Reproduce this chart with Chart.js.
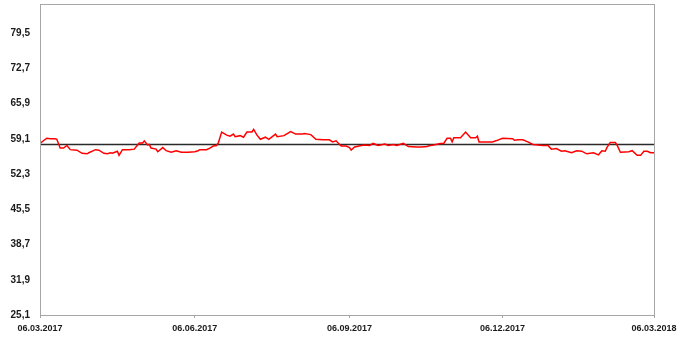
<!DOCTYPE html>
<html>
<head>
<meta charset="utf-8">
<script src="https://cdn.jsdelivr.net/npm/chart.js@4/dist/chart.umd.min.js"></script>
<style>
  html, body { margin: 0; padding: 0; background: #ffffff; }
  #wrap { width: 687px; height: 340px; position: relative; }
</style>
</head>
<body>
<div id="wrap"><canvas id="chart"></canvas></div>
<script>
// Days counted from 06.03.2017
const dayOffsets = [
  0, 4, 6, 9, 10, 12, 14, 16, 18, 22, 25, 28, 29, 33, 35, 38, 40, 42, 43, 46,
  47, 49, 53, 56, 58, 59, 61, 62, 64, 65, 66, 69, 70, 73, 75, 78, 81, 84, 88, 92,
  94, 95, 99, 101, 103, 105, 106, 108, 111, 113, 115, 116, 119, 121, 123, 126, 127, 129, 131, 134,
  136, 140, 141, 145, 149, 152, 156, 157, 161, 164, 168, 172, 174, 176, 179, 182, 184, 185, 187, 191,
  193, 196, 198, 201, 205, 207, 210, 212, 216, 219, 224, 227, 230, 232, 234, 238, 240, 242, 244, 245,
  246, 250, 253, 256, 259, 260, 261, 269, 271, 275, 281, 282, 284, 287, 290, 293, 299, 302, 304, 307,
  310, 312, 316, 319, 322, 325, 329, 332, 334, 336, 337, 339, 342, 343, 345, 350, 352, 355, 357, 359,
  361, 363, 365
];
const values = [
  58.2, 59.2, 59.1, 59.1, 59.0, 57.3, 57.3, 57.8, 57.0, 56.9, 56.3, 56.2, 56.4, 57.0, 56.9, 56.3, 56.2, 56.4, 56.3, 56.7,
  55.9, 57.0, 57.0, 57.1, 57.9, 58.3, 58.3, 58.7, 57.9, 58.0, 57.3, 57.1, 56.6, 57.4, 56.8, 56.5, 56.8, 56.5, 56.5, 56.6,
  56.8, 57.0, 57.0, 57.3, 57.7, 57.8, 58.3, 60.4, 59.8, 59.6, 60.0, 59.5, 59.7, 59.4, 60.4, 60.4, 60.9, 59.8, 59.0, 59.4,
  59.0, 60.0, 59.5, 59.7, 60.5, 60.0, 60.0, 60.1, 59.9, 59.0, 58.9, 58.9, 58.5, 58.7, 57.7, 57.7, 57.4, 56.9, 57.5, 57.8,
  57.9, 57.8, 58.2, 57.8, 58.1, 57.8, 58.0, 57.8, 58.2, 57.6, 57.5, 57.5, 57.6, 57.8, 57.9, 58.2, 58.2, 59.2, 59.2, 58.5,
  59.3, 59.3, 60.4, 59.3, 59.3, 59.6, 58.5, 58.5, 58.7, 59.2, 59.1, 58.8, 58.9, 58.9, 58.5, 58.0, 57.8, 57.8, 57.1, 57.2,
  56.7, 56.8, 56.4, 56.8, 56.7, 56.2, 56.4, 56.0, 56.8, 56.7, 57.4, 58.4, 58.4, 57.9, 56.5, 56.6, 56.8, 55.9, 55.9, 56.7,
  56.7, 56.4, 56.4
];
const meanValue = 58.0;

const tickDays = [0, 92, 184, 275, 365];
const tickLabels = ['06.03.2017', '06.06.2017', '06.09.2017', '06.12.2017', '06.03.2018'];
const yTicks = [25.1, 31.9, 38.7, 45.5, 52.3, 59.1, 65.9, 72.7, 79.5];
const yMin = 25.1;
const yMax = 85.1;

const series = dayOffsets.map((d, i) => ({ x: d, y: values[i] }));
const meanLine = [
  { x: tickDays[0], y: meanValue },
  { x: tickDays[tickDays.length - 1], y: meanValue }
];

// Grey frame around the plotting area
const frame = {
  id: 'frame',
  afterDatasetsDraw(chart) {
    const a = chart.chartArea;
    const ctx = chart.ctx;
    ctx.save();
    ctx.strokeStyle = '#a6a6a6';
    ctx.lineWidth = 1;
    ctx.strokeRect(Math.round(a.left) + 0.5, Math.round(a.top) + 0.5,
                   Math.round(a.right - a.left), Math.round(a.bottom - a.top));
    ctx.restore();
  }
};

new Chart(document.getElementById('chart'), {
  type: 'line',
  data: {
    datasets: [
      {
        data: series,
        borderColor: '#ff0000',
        borderWidth: 1.5,
        pointRadius: 0,
        tension: 0,
        fill: false
      },
      {
        data: meanLine,
        borderColor: '#2a2a2a',
        borderWidth: 1.5,
        pointRadius: 0,
        fill: false
      }
    ]
  },
  plugins: [frame],
  options: {
    responsive: true,
    maintainAspectRatio: false,
    animation: false,
    layout: { padding: { top: 4, right: 33, left: 0, bottom: 0 } },
    plugins: {
      legend: { display: false },
      tooltip: { enabled: false }
    },
    scales: {
      x: {
        type: 'linear',
        min: tickDays[0],
        max: tickDays[tickDays.length - 1],
        afterBuildTicks(scale) {
          scale.ticks = tickDays.map(v => ({ value: v }));
        },
        afterFit(scale) { scale.height = 25; },
        grid: {
          drawOnChartArea: false,
          drawTicks: true,
          tickLength: 3,
          color: '#a6a6a6'
        },
        border: { display: false },
        ticks: {
          autoSkip: false,
          maxRotation: 0,
          padding: 5,
          color: '#1a1a1a',
          font: { family: 'Liberation Sans', size: 9, weight: 'bold' },
          callback(value) {
            const i = tickDays.indexOf(value);
            return i >= 0 ? tickLabels[i] : '';
          }
        }
      },
      y: {
        type: 'linear',
        min: yMin,
        max: yMax,
        afterBuildTicks(scale) {
          scale.ticks = yTicks.map(v => ({ value: v }));
        },
        afterFit(scale) {
          scale.width = 40;
          scale.paddingTop = 0;
          scale.paddingBottom = 0;
        },
        grid: { display: false, drawTicks: false },
        border: { display: false },
        ticks: {
          padding: 10,
          color: '#1a1a1a',
          font: { family: 'Liberation Sans', size: 10, weight: 'bold' },
          callback(value) {
            return value.toFixed(1).replace('.', ',');
          }
        }
      }
    }
  }
});
</script>
</body>
</html>
